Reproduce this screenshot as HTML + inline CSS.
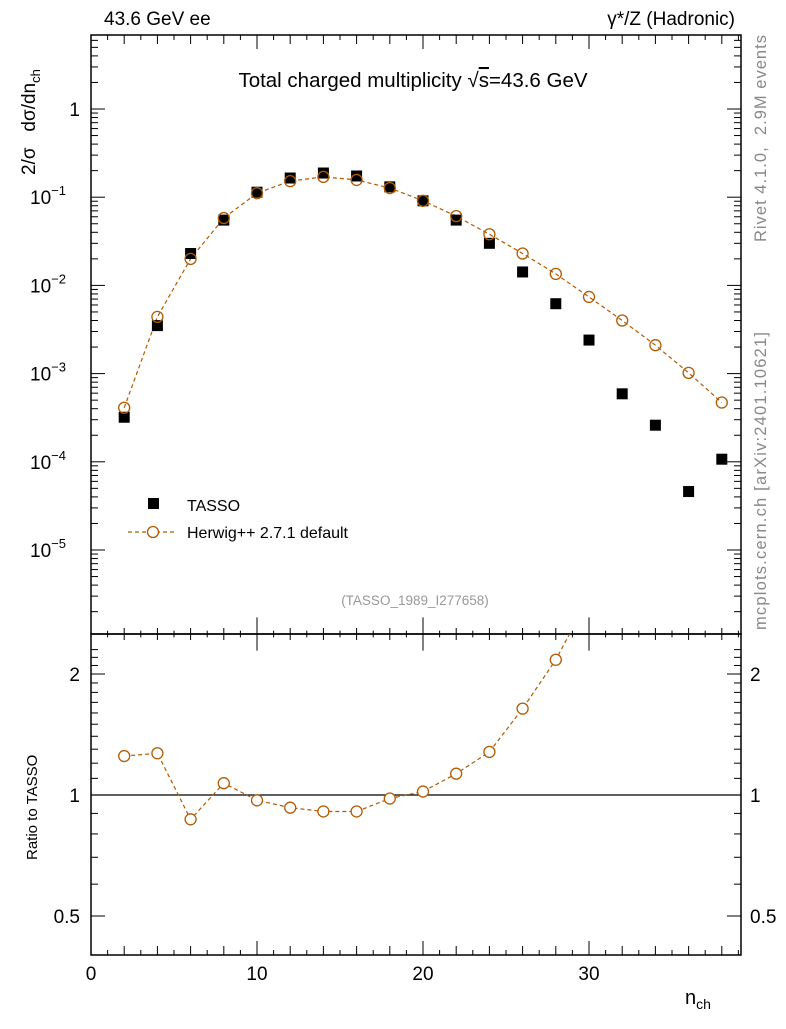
<!DOCTYPE html>
<html><head><meta charset="utf-8"><style>
body{margin:0;background:#fff;font-family:"Liberation Sans",sans-serif}
svg text{font-family:"Liberation Sans",sans-serif}
</style></head><body>
<svg id="c" width="786" height="1024" xmlns="http://www.w3.org/2000/svg"></svg>
<script>
const nch=[2,4,6,8,10,12,14,16,18,20,22,24,26,28,30,32,34,36,38];
const tasso=[3.2e-4,3.5e-3,0.023,0.055,0.114,0.165,0.188,0.174,0.131,0.091,0.055,0.030,0.0142,0.0062,0.0024,5.9e-4,2.6e-4,4.6e-5,1.07e-4];
const herwig=[4.1e-4,4.4e-3,0.020,0.058,0.111,0.152,0.170,0.157,0.127,0.091,0.061,0.038,0.023,0.0135,0.0074,0.0040,0.0021,0.00102,4.7e-4];
const ratio=[1.25,1.27,0.87,1.07,0.97,0.93,0.91,0.91,0.98,1.02,1.13,1.28,1.64,2.17,3.1,6.8,8.1,22,4.4];
const xTicks=[0,10,20,30];
const yExp=[0,-1,-2,-3,-4,-5];
const rTicks=[2,1,0.5];

const S='http://www.w3.org/2000/svg', svg=document.getElementById('c');
const L=91,R=741,T=35,M=634,B=955;
const X=v=>L+(v)*16.6;
const Y=v=>109-Math.log10(v)*88.2;
const YR=v=>795-Math.log2(v)*121;
function el(t,a,p){const e=document.createElementNS(S,t);for(const k in a)e.setAttribute(k,a[k]);(p||svg).appendChild(e);return e;}
function tx(x,y,s,size,extra){const e=el('text',Object.assign({x:x,y:y,'font-size':size},extra||{}));e.innerHTML=s;return e;}
const BR='#b35a00';
let f1=el('rect',{x:L,y:T,width:R-L,height:M-T,fill:'none',stroke:'#000','stroke-width':1.5});

let f2=el('rect',{x:L,y:M,width:R-L,height:B-M,fill:'none',stroke:'#000','stroke-width':1.5});

for(let v=1;v<=39;v++){const x=X(v);const len=v%10==0?14:(v%2==0?9:5);
 [[T,1],[M,1],[M,-1],[B,-1]].forEach(([y0,d])=>el('line',{x1:x,x2:x,y1:y0,y2:y0+d*(v%10==0&&y0==M?25:len)/ (y0==M?1.5:1),stroke:'#000','stroke-width':1}));}
xTicks.forEach(v=>{const t=tx(X(v),980,v,19,{'text-anchor':'middle'});});
for(let e=-6;e<=0;e++)for(let m=1;m<10;m++){const v=m*Math.pow(10,e);const y=Y(v);if(y<T||y>M)continue;const len=m==1?14:7;
 el('line',{x1:L,x2:L+len,y1:y,y2:y,stroke:'#000'});el('line',{x1:R,x2:R-len,y1:y,y2:y,stroke:'#000'});}
yExp.forEach(e=>{const t=tx(80,Y(Math.pow(10,e))+7,e==0?'1':'10<tspan dy="-9" font-size="13">'+e.toString().replace('-','−')+'</tspan>',19,{'text-anchor':'end'});
 if(e!=0)t.setAttribute('x',66);});
for(let v=0.4;v<=2.4;v+=0.1){const y=YR(v);if(y<M||y>B)continue;const maj=[0.5,1,2].some(u=>Math.abs(u-v)<1e-6);const len=maj?14:7;
 el('line',{x1:L,x2:L+len,y1:y,y2:y,stroke:'#000'});el('line',{x1:R,x2:R-len,y1:y,y2:y,stroke:'#000'});}
rTicks.forEach(v=>{let t=tx(80,YR(v)+7,v,19,{'text-anchor':'end'});
 t=tx(750,YR(v)+7,v,19);});
let one=el('line',{x1:L,x2:R,y1:YR(1),y2:YR(1),stroke:'#000','stroke-width':1.2});
const defs=el('defs',{});const cp=el('clipPath',{id:'cr'},defs);el('rect',{x:L,y:M,width:R-L,height:B-M},cp);
let pl=el('polyline',{points:nch.map((n,i)=>X(n)+','+Y(herwig[i])).join(' '),fill:'none',stroke:BR,'stroke-width':1.2,'stroke-dasharray':'4,3'});

tasso.forEach((v,i)=>{const r=el('rect',{x:X(nch[i])-5.5,y:Y(v)-5.5,width:11,height:11,fill:'#000'});});
herwig.forEach((v,i)=>{const c=el('circle',{cx:X(nch[i]),cy:Y(v),r:5.5,fill:'none',stroke:BR,'stroke-width':1.3});});
const g=el('g',{'clip-path':'url(#cr)'});
let rl=el('polyline',{points:nch.map((n,i)=>X(n)+','+YR(ratio[i])).join(' '),fill:'none',stroke:BR,'stroke-width':1.2,'stroke-dasharray':'4,3'},g);

ratio.forEach((v,i)=>{const c=el('circle',{cx:X(nch[i]),cy:YR(v),r:5.5,fill:'#fff',stroke:BR,'stroke-width':1.3},g);});
let lr=el('rect',{x:148,y:498,width:11,height:11,fill:'#000'});
let lt=tx(187,511,'TASSO',16);
el('line',{x1:128,x2:176,y1:532,y2:532,stroke:BR,'stroke-width':1.2,'stroke-dasharray':'4,3'});
let lc=el('circle',{cx:153,cy:532,r:5.5,fill:'#fff',stroke:BR,'stroke-width':1.3});
let lh=tx(187,538,'Herwig++ 2.7.1 default',16);
let t;
t=tx(104,25,'43.6 GeV ee',19);
t=tx(735,25,'γ*/Z (Hadronic)',19,{'text-anchor':'end'});
t=tx(413,87,'Total charged multiplicity √<tspan text-decoration="overline">s</tspan>=43.6 GeV',20.5,{'text-anchor':'middle'});
t=tx(415,605,'(TASSO_1989_I277658)',13.5,{'text-anchor':'middle',fill:'#999'});
t=tx(0,0,'2/σ &#160;&#160;dσ/dn<tspan dy="5" font-size="13">ch</tspan>',19,{transform:'translate(35,175) rotate(-90)'});
t=tx(0,0,'Ratio to TASSO',15,{transform:'translate(37,860) rotate(-90)'});
t=tx(685,1004,'n<tspan dy="5" font-size="14">ch</tspan>',20);
t=tx(0,0,'Rivet 4.1.0, &#160;2.9M events',16.5,{fill:'#888',transform:'translate(766,242) rotate(-90)','textLength':207});
t=tx(0,0,'mcplots.cern.ch [arXiv:2401.10621]',16.5,{fill:'#888',transform:'translate(766,630) rotate(-90)','textLength':298});
</script></body></html>
